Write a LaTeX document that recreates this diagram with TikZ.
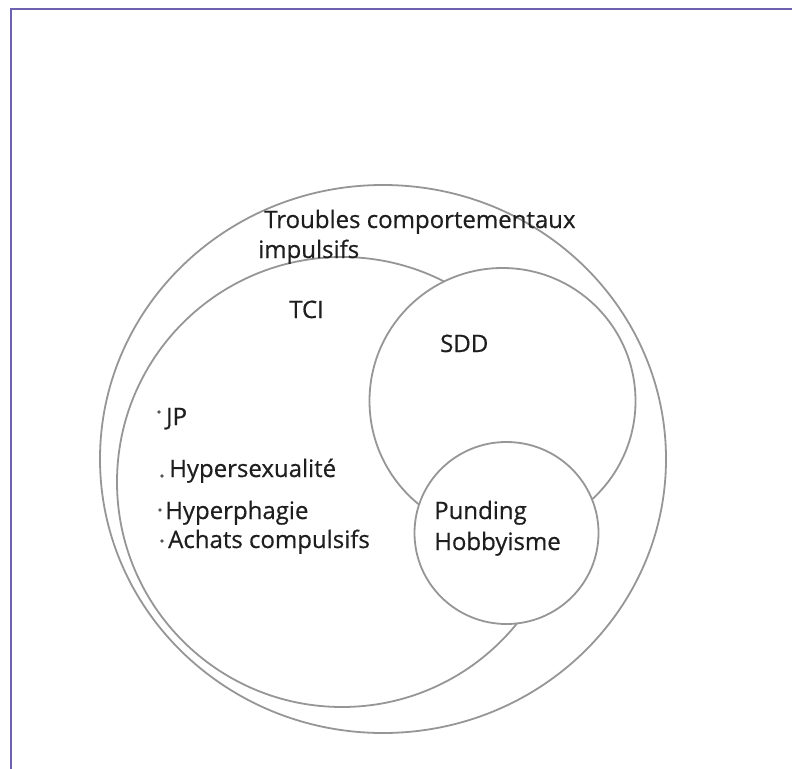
\documentclass[tikz,border=0pt]{standalone}
\usepackage{fontspec}
\setmainfont{Open Sans}[BoldFont={Open Sans}, BoldFeatures={FakeBold=0.5}]
\usetikzlibrary{shapes.geometric}
\definecolor{framecol}{RGB}{108,98,176}
\definecolor{ringcol}{RGB}{150,150,150}
\definecolor{inkcol}{RGB}{30,30,30}
\begin{document}
\begin{tikzpicture}[x=1bp,y=-1bp,
  ring/.style={draw=ringcol, line width=1.8bp, inner sep=0pt, ellipse},
  lbl/.style={anchor=base west, inner sep=0pt, text=inkcol, font=\fontsize{24bp}{28bp}\selectfont\bfseries},
  bulletdot/.style={circle, fill=inkcol!75, inner sep=0pt, minimum size=3.8bp}]
\useasboundingbox (0,0) rectangle (792,769);
\fill[white] (0,0) rectangle (792,769);
% page frame (top and left edges only)
\draw[framecol, line width=2.2bp] (11,769) -- (11,9) -- (792,9);

% nested sets
\node[ring, minimum width=566bp, minimum height=548bp] (outer) at (383,459) {};
\node[ring, minimum width=450bp, minimum height=450bp] (tci) at (342,482) {};
\node[ring, fill=white, minimum width=266bp, minimum height=266bp] (sdd) at (502.5,401) {};
\node[ring, fill=white, minimum width=184bp, minimum height=182bp] (pund) at (506.5,533) {};

% labels
\node[lbl] (tbc1) at (264,228) {Troubles comportementaux};
\node[lbl] (tbc2) at (258,258) {impulsifs};
\node[lbl] (tcilbl) at (289,318) {TCI};
\node[lbl] (sddlbl) at (440,352) {SDD};
\node[lbl] (pund1) at (434,519) {Punding};
\node[lbl] (pund2) at (434,550) {Hobbyisme};

\node[lbl] (jp) at (166,425) {JP};
\node[lbl] (hsex) at (169,477) {Hypersexualité};
\node[lbl] (hphag) at (165,519) {Hyperphagie};
\node[lbl] (achat) at (168,548) {Achats compulsifs};

\node[bulletdot] (b1) at (159,412) {};
\node[bulletdot] (b2) at (162,476) {};
\node[bulletdot] (b3) at (160,510) {};
\node[bulletdot] (b4) at (162,541) {};
\end{tikzpicture}
\end{document}
